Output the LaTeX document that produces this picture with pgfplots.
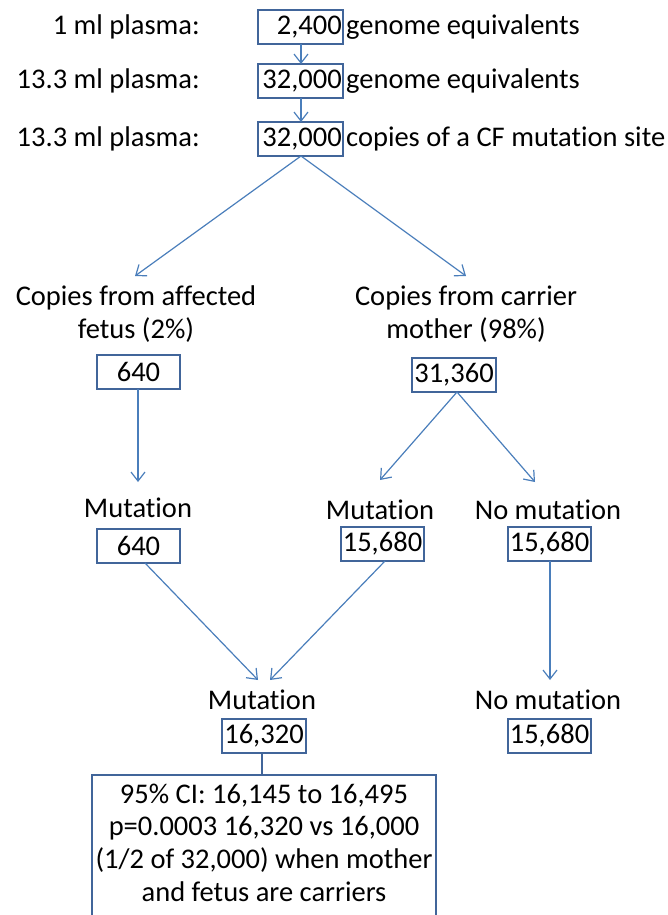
\documentclass[border=0pt]{standalone}
\usepackage{pgfplots}
\pgfplotsset{compat=1.18}
\usepackage{fontspec}
\setmainfont{Carlito}[Ligatures={NoCommon}]
\usetikzlibrary{arrows.meta}
\definecolor{arr}{HTML}{4A7EBB}
\definecolor{bx}{HTML}{41659A}
\begin{document}
\begin{tikzpicture}
\path[use as bounding box, clip] (0,0) rectangle (668pt,915pt);
\begin{axis}[at={(0,0)},anchor=south west,scale only axis,width=668pt,height=915pt,
  xmin=0,xmax=668,ymin=0,ymax=915,y dir=reverse,hide axis,clip=false]
\tikzset{t/.style={font=\fontsize{28.5}{32}\selectfont,inner sep=0pt,align=center},
  b/.style={draw=bx,line width=1.4pt},
  a/.style={draw=arr,line width=1.2pt,-{Straight Barb[length=9pt,width=14pt]}}}
% top rows
\node[t,anchor=east] at (axis cs:200,27) {1 ml plasma:};
\node[t,anchor=east] at (axis cs:200,81) {13.3 ml plasma:};
\node[t,anchor=east] at (axis cs:200,139) {13.3 ml plasma:};
\draw[b] (axis cs:258,10) rectangle (axis cs:343,44);
\draw[b] (axis cs:258,64) rectangle (axis cs:343,98);
\draw[b] (axis cs:258,122) rectangle (axis cs:343,156);
\node[t,anchor=east] at (axis cs:342,27) {2,400};
\node[t,anchor=east] at (axis cs:342,81) {32,000};
\node[t,anchor=east] at (axis cs:342,139) {32,000};
\node[t,anchor=west] at (axis cs:346,27) {genome equivalents};
\node[t,anchor=west] at (axis cs:346,81) {genome equivalents};
\node[t,anchor=west] at (axis cs:346,139) {copies of a CF mutation site};
\draw[a] (axis cs:301,44) -- (axis cs:301,64);
\draw[a] (axis cs:301,98) -- (axis cs:301,122);
\draw[a] (axis cs:301,156) -- (axis cs:135,276);
\draw[a] (axis cs:301,156) -- (axis cs:466,276);
% second level
\node[t] at (axis cs:136,298) {Copies from affected};
\node[t] at (axis cs:136,330) {fetus (2\%)};
\node[t] at (axis cs:466,298) {Copies from carrier};
\node[t] at (axis cs:466,330) {mother (98\%)};
\draw[b] (axis cs:97,355) rectangle (axis cs:180,389);
\node[t] at (axis cs:138.5,372) {640};
\draw[b] (axis cs:412,358) rectangle (axis cs:496,392);
\node[t] at (axis cs:454,375) {31,360};
\draw[a] (axis cs:138,389) -- (axis cs:138,482);
\draw[a] (axis cs:457,392) -- (axis cs:380,480);
\draw[a] (axis cs:457,392) -- (axis cs:535,482);
% third level
\node[t] at (axis cs:138,508) {Mutation};
\draw[b] (axis cs:97,529) rectangle (axis cs:180,563);
\node[t] at (axis cs:138.5,546) {640};
\node[t] at (axis cs:380,510) {Mutation};
\draw[b] (axis cs:341,527) rectangle (axis cs:424,561);
\node[t] at (axis cs:382.5,544) {15,680};
\node[t] at (axis cs:548,510) {No mutation};
\draw[b] (axis cs:508,527) rectangle (axis cs:591,561);
\node[t] at (axis cs:549.5,544) {15,680};
\draw[a] (axis cs:145,563) -- (axis cs:258,680);
\draw[a] (axis cs:385,561) -- (axis cs:270,680);
\draw[a] (axis cs:550,561) -- (axis cs:550,680);
% fourth level
\node[t] at (axis cs:262,700) {Mutation};
\draw[b] (axis cs:222,719) rectangle (axis cs:306,753);
\node[t] at (axis cs:264,736) {16,320};
\node[t] at (axis cs:548,700) {No mutation};
\draw[b] (axis cs:508,719) rectangle (axis cs:591,753);
\node[t] at (axis cs:549.5,736) {15,680};
\draw[draw=bx,line width=1.2pt] (axis cs:262,753) -- (axis cs:262,775);
\draw[b] (axis cs:92,930) -- (axis cs:92,775) -- (axis cs:436,775) -- (axis cs:436,930);
\node[t] at (axis cs:264,796) {95\% CI: 16,145 to 16,495};
\node[t] at (axis cs:264,828) {p=0.0003 16,320 vs 16,000};
\node[t] at (axis cs:264,860) {(1/2 of 32,000) when mother};
\node[t] at (axis cs:264,892) {and fetus are carriers};
\end{axis}
\end{tikzpicture}
\end{document}
